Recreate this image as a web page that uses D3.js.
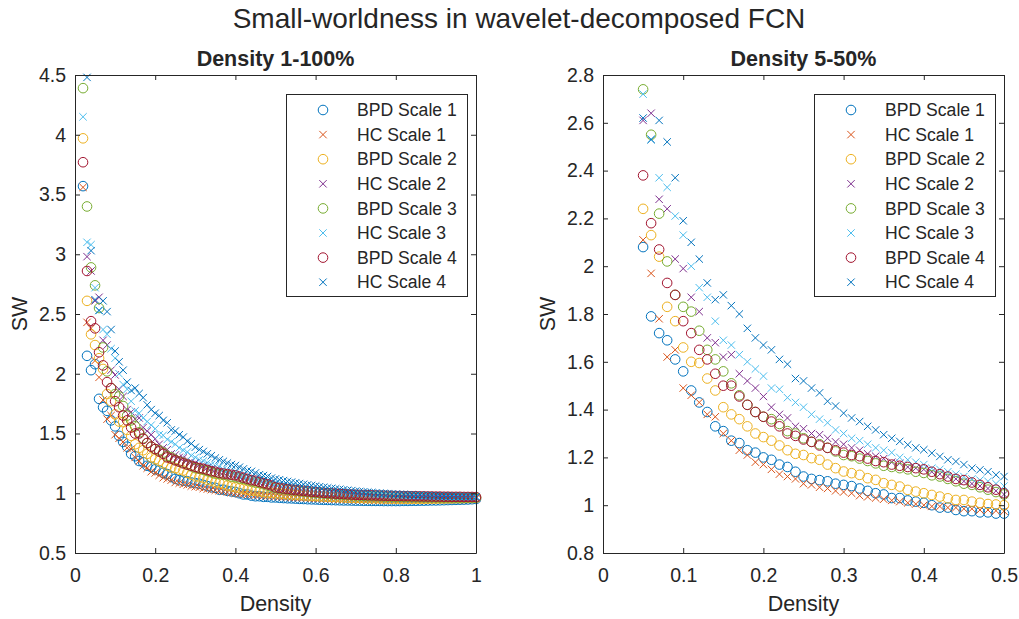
<!DOCTYPE html>
<html>
<head>
<meta charset="utf-8">
<script src="https://cdn.jsdelivr.net/npm/d3@7"></script>
<style>
  body { margin: 0; background: #ffffff; }
  svg text { font-family: "Liberation Sans", Arial, Helvetica, sans-serif; fill: #262626; }
</style>
</head>
<body>
<svg id="chart" width="1019" height="619"></svg>
<script>
// Network density thresholds, in percent (1% .. 100%)
const densityPct = [
  1, 2, 3, 4, 5, 6, 7, 8, 9, 10,
  11, 12, 13, 14, 15, 16, 17, 18, 19, 20,
  21, 22, 23, 24, 25, 26, 27, 28, 29, 30,
  31, 32, 33, 34, 35, 36, 37, 38, 39, 40,
  41, 42, 43, 44, 45, 46, 47, 48, 49, 50,
  51, 52, 53, 54, 55, 56, 57, 58, 59, 60,
  61, 62, 63, 64, 65, 66, 67, 68, 69, 70,
  71, 72, 73, 74, 75, 76, 77, 78, 79, 80,
  81, 82, 83, 84, 85, 86, 87, 88, 89, 90,
  91, 92, 93, 94, 95, 96, 97, 98, 99, 100
];

// Small-worldness (SW) per density; null where the graph gives no value
const bpdScale1 = [
  null, 3.57, 2.15, 2.03, 2.08, 1.79, 1.72, 1.69, 1.61, 1.56,
  1.48, 1.43, 1.39, 1.33, 1.31, 1.27, 1.26, 1.23, 1.22, 1.20,
  1.19, 1.17, 1.16, 1.14, 1.12, 1.11, 1.105, 1.10, 1.09, 1.085,
  1.08, 1.07, 1.06, 1.05, 1.045, 1.03, 1.03, 1.02, 1.015, 1.01,
  1.0, 0.99, 0.99, 0.98, 0.975, 0.975, 0.97, 0.97, 0.965, 0.965,
  0.962, 0.96, 0.958, 0.957, 0.955, 0.953, 0.952, 0.95, 0.949, 0.948,
  0.946, 0.945, 0.944, 0.943, 0.942, 0.941, 0.94, 0.94, 0.939, 0.938,
  0.938, 0.937, 0.937, 0.936, 0.936, 0.936, 0.935, 0.935, 0.935, 0.935,
  0.935, 0.936, 0.936, 0.937, 0.937, 0.938, 0.938, 0.939, 0.94, 0.94,
  0.941, 0.942, 0.943, 0.944, 0.945, 0.946, 0.947, 0.948, 0.95, 0.952
];
const hcScale1 = [
  null, 3.56, 2.43, 2.38, 2.11, 1.97, 1.78, 1.62, 1.65, 1.49,
  1.46, 1.43, 1.38, 1.37, 1.30, 1.27, 1.23, 1.21, 1.18, 1.17,
  1.15, 1.13, 1.12, 1.11, 1.09, 1.085, 1.075, 1.07, 1.06, 1.055,
  1.05, 1.04, 1.035, 1.03, 1.025, 1.02, 1.015, 1.01, 1.005, 1.0,
  0.995, 0.995, 0.99, 0.99, 0.985, 0.985, 0.98, 0.98, 0.977, 0.975,
  0.972, 0.97, 0.968, 0.966, 0.965, 0.963, 0.962, 0.96, 0.958, 0.957,
  0.956, 0.955, 0.953, 0.952, 0.951, 0.95, 0.949, 0.948, 0.947, 0.946,
  0.945, 0.945, 0.944, 0.944, 0.943, 0.943, 0.942, 0.942, 0.942, 0.942,
  0.942, 0.943, 0.943, 0.944, 0.944, 0.945, 0.945, 0.946, 0.947, 0.947,
  0.948, 0.949, 0.95, 0.951, 0.952, 0.953, 0.954, 0.955, 0.956, 0.957
];
const bpdScale2 = [
  null, 3.97, 2.61, 2.33, 2.24, 2.13, 2.04, 1.83, 1.77, 1.66,
  1.60, 1.595, 1.53, 1.48, 1.41, 1.38, 1.36, 1.33, 1.30, 1.285,
  1.27, 1.25, 1.23, 1.215, 1.21, 1.197, 1.19, 1.17, 1.155, 1.141,
  1.134, 1.127, 1.113, 1.106, 1.092, 1.085, 1.078, 1.064, 1.057, 1.05,
  1.043, 1.036, 1.029, 1.022, 1.022, 1.015, 1.01, 1.005, 1.003, 1.0,
  0.998, 0.995, 0.992, 0.99, 0.988, 0.985, 0.983, 0.981, 0.979, 0.977,
  0.975, 0.973, 0.972, 0.97, 0.968, 0.967, 0.966, 0.964, 0.963, 0.962,
  0.961, 0.96, 0.959, 0.958, 0.958, 0.957, 0.956, 0.956, 0.955, 0.955,
  0.954, 0.954, 0.954, 0.954, 0.954, 0.954, 0.954, 0.955, 0.955, 0.955,
  0.956, 0.956, 0.957, 0.957, 0.958, 0.958, 0.959, 0.96, 0.96, 0.961
];
const hcScale2 = [
  null, null, 2.98, 2.86, 2.61, 2.64, 2.28, 2.24, 2.03, 1.99,
  1.87, 1.81, 1.70, 1.68, 1.62, 1.63, 1.55, 1.52, 1.49, 1.455,
  1.41, 1.38, 1.365, 1.33, 1.32, 1.30, 1.295, 1.28, 1.265, 1.255,
  1.24, 1.23, 1.215, 1.205, 1.195, 1.18, 1.175, 1.16, 1.155, 1.15,
  1.14, 1.13, 1.12, 1.11, 1.10, 1.09, 1.08, 1.07, 1.06, 1.045,
  1.04, 1.035, 1.03, 1.025, 1.02, 1.015, 1.01, 1.005, 1.0, 0.997,
  0.994, 0.991, 0.988, 0.985, 0.983, 0.981, 0.979, 0.977, 0.975, 0.973,
  0.972, 0.97, 0.969, 0.968, 0.967, 0.966, 0.965, 0.964, 0.963, 0.963,
  0.962, 0.962, 0.961, 0.961, 0.961, 0.96, 0.96, 0.96, 0.96, 0.96,
  0.96, 0.96, 0.96, 0.961, 0.961, 0.961, 0.962, 0.962, 0.962, 0.963
];
const bpdScale3 = [
  null, 4.39, 3.40, 2.89, 2.74, 2.55, 2.22, 2.02, 1.88, 1.83,
  1.81, 1.73, 1.65, 1.61, 1.56, 1.51, 1.46, 1.42, 1.39, 1.37,
  1.36, 1.34, 1.31, 1.30, 1.28, 1.265, 1.255, 1.24, 1.225, 1.21,
  1.205, 1.195, 1.185, 1.175, 1.165, 1.16, 1.155, 1.15, 1.14, 1.135,
  1.125, 1.12, 1.11, 1.10, 1.09, 1.085, 1.075, 1.065, 1.055, 1.045,
  1.04, 1.035, 1.03, 1.026, 1.022, 1.018, 1.014, 1.01, 1.007, 1.004,
  1.001, 0.998, 0.995, 0.993, 0.991, 0.989, 0.987, 0.985, 0.983, 0.981,
  0.98, 0.978, 0.977, 0.976, 0.975, 0.974, 0.973, 0.972, 0.971, 0.97,
  0.97, 0.969, 0.969, 0.968, 0.968, 0.967, 0.967, 0.966, 0.966, 0.966,
  0.965, 0.965, 0.965, 0.965, 0.964, 0.964, 0.964, 0.964, 0.964, 0.964
];
const hcScale3 = [
  null, 4.15, 3.10, 3.08, 2.72, 2.53, 2.37, 2.33, 2.21, 2.13,
  2.00, 1.91, 1.87, 1.77, 1.69, 1.67, 1.63, 1.60, 1.57, 1.54,
  1.49, 1.485, 1.45, 1.43, 1.41, 1.38, 1.36, 1.345, 1.315, 1.30,
  1.28, 1.27, 1.255, 1.24, 1.23, 1.22, 1.20, 1.19, 1.18, 1.17,
  1.155, 1.15, 1.14, 1.13, 1.12, 1.11, 1.105, 1.10, 1.09, 1.08,
  1.074, 1.068, 1.063, 1.058, 1.053, 1.048, 1.043, 1.039, 1.035, 1.031,
  1.027, 1.023, 1.02, 1.016, 1.013, 1.01, 1.007, 1.004, 1.001, 0.998,
  0.996, 0.994, 0.992, 0.99, 0.988, 0.986, 0.985, 0.983, 0.982, 0.981,
  0.98, 0.979, 0.978, 0.977, 0.976, 0.975, 0.975, 0.974, 0.973, 0.973,
  0.972, 0.972, 0.971, 0.971, 0.97, 0.97, 0.97, 0.969, 0.969, 0.969
];
const bpdScale4 = [
  null, 3.77, 2.86, 2.44, 2.38, 2.18, 2.07, 1.93, 1.88, 1.77,
  1.72, 1.65, 1.61, 1.55, 1.50, 1.50, 1.455, 1.42, 1.39, 1.37,
  1.35, 1.33, 1.30, 1.29, 1.275, 1.265, 1.25, 1.24, 1.23, 1.22,
  1.21, 1.205, 1.195, 1.185, 1.18, 1.17, 1.165, 1.16, 1.155, 1.15,
  1.14, 1.13, 1.12, 1.11, 1.105, 1.095, 1.085, 1.075, 1.065, 1.05,
  1.045, 1.04, 1.035, 1.03, 1.027, 1.023, 1.02, 1.016, 1.013, 1.01,
  1.007, 1.004, 1.001, 0.999, 0.997, 0.995, 0.993, 0.991, 0.989, 0.987,
  0.986, 0.985, 0.984, 0.983, 0.982, 0.981, 0.98, 0.979, 0.978, 0.977,
  0.977, 0.976, 0.976, 0.975, 0.975, 0.974, 0.974, 0.973, 0.973, 0.972,
  0.972, 0.971, 0.971, 0.97, 0.97, 0.97, 0.969, 0.969, 0.969, 0.968
];
const hcScale4 = [
  null, null, 4.48, 3.03, 2.62, 2.53, 2.61, 2.52, 2.37, 2.19,
  2.10, 2.03, 1.93, 1.86, 1.88, 1.835, 1.80, 1.74, 1.70, 1.67,
  1.65, 1.61, 1.59, 1.53, 1.52, 1.49, 1.47, 1.435, 1.415, 1.385,
  1.365, 1.35, 1.33, 1.315, 1.295, 1.28, 1.267, 1.253, 1.24, 1.232,
  1.218, 1.204, 1.19, 1.183, 1.17, 1.155, 1.148, 1.14, 1.127, 1.12,
  1.113, 1.106, 1.099, 1.093, 1.087, 1.081, 1.075, 1.07, 1.065, 1.06,
  1.055, 1.05, 1.045, 1.041, 1.037, 1.033, 1.029, 1.025, 1.022, 1.018,
  1.015, 1.012, 1.009, 1.006, 1.003, 1.001, 0.999, 0.997, 0.995, 0.993,
  0.991, 0.989, 0.988, 0.986, 0.985, 0.984, 0.982, 0.981, 0.98, 0.979,
  0.978, 0.977, 0.976, 0.976, 0.975, 0.974, 0.974, 0.973, 0.973, 0.972
];

const seriesNames = ["BPD Scale 1", "HC Scale 1", "BPD Scale 2", "HC Scale 2",
                     "BPD Scale 3", "HC Scale 3", "BPD Scale 4", "HC Scale 4"];
const seriesValues = [bpdScale1, hcScale1, bpdScale2, hcScale2,
                      bpdScale3, hcScale3, bpdScale4, hcScale4];

// Tick values of the two panels
const fullXTicks = [0, 0.2, 0.4, 0.6, 0.8, 1];
const fullYTicks = [0.5, 1, 1.5, 2, 2.5, 3, 3.5, 4, 4.5];
const zoomXTicks = [0, 0.1, 0.2, 0.3, 0.4, 0.5];
const zoomYTicks = [0.8, 1, 1.2, 1.4, 1.6, 1.8, 2, 2.2, 2.4, 2.6, 2.8];

// ---- styling ----
const markerStyle = [
  { shape: "o", color: "#0072BD" }, { shape: "x", color: "#D95319" },
  { shape: "o", color: "#EDB120" }, { shape: "x", color: "#7E2F8E" },
  { shape: "o", color: "#77AC30" }, { shape: "x", color: "#4DBEEE" },
  { shape: "o", color: "#A2142F" }, { shape: "x", color: "#0072BD" }
];
const axisColor = "#262626";
const tickFont = 19.5, labelFont = 21.5, legendFont = 17.6, mainTitleFont = 28;
const circleR = 4.8, crossHalf = 3.7;
const plotTop = 75, plotBottom = 553;

const panels = [
  { title: "Density 1-100%", left: 75, right: 476, xDomain: [0, 1], yDomain: [0.5, 4.5],
    xTicks: fullXTicks, yTicks: fullYTicks, minPct: 1, maxPct: 100 },
  { title: "Density 5-50%", left: 603, right: 1004, xDomain: [0, 0.5], yDomain: [0.8, 2.8],
    xTicks: zoomXTicks, yTicks: zoomYTicks, minPct: 5, maxPct: 50 }
];

const svg = d3.select("#chart");
svg.append("rect").attr("width", 1019).attr("height", 619).attr("fill", "#ffffff");

const fmt = d3.format("~g");

function drawMarker(g, shape, color, cx, cy) {
  if (shape === "o") {
    g.append("circle").attr("cx", cx).attr("cy", cy).attr("r", circleR)
      .attr("fill", "none").attr("stroke", color).attr("stroke-width", 1);
  } else {
    const h = crossHalf;
    g.append("path")
      .attr("d", `M${cx - h},${cy - h}L${cx + h},${cy + h}M${cx - h},${cy + h}L${cx + h},${cy - h}`)
      .attr("fill", "none").attr("stroke", color).attr("stroke-width", 1);
  }
}

function styleAxis(sel, showLabels) {
  sel.select(".domain").attr("stroke", axisColor).attr("stroke-width", 1);
  sel.selectAll(".tick line").attr("stroke", axisColor).attr("stroke-width", 1);
  sel.attr("font-family", null).attr("font-size", null);
  sel.selectAll(".tick text").attr("font-size", tickFont).attr("fill", axisColor)
    .style("display", showLabels ? null : "none");
}

panels.forEach(p => {
  const x = d3.scaleLinear().domain(p.xDomain).range([p.left, p.right]);
  const y = d3.scaleLinear().domain(p.yDomain).range([plotBottom, plotTop]);
  const g = svg.append("g");

  // data markers, series drawn in order so later ones sit on top
  const dataLayer = g.append("g");
  seriesValues.forEach((vals, si) => {
    const st = markerStyle[si];
    const sg = dataLayer.append("g");
    densityPct.forEach((pct, i) => {
      const v = vals[i];
      if (v === null || pct < p.minPct || pct > p.maxPct) return;
      if (v < p.yDomain[0] || v > p.yDomain[1]) return;
      drawMarker(sg, st.shape, st.color, x(pct / 100), y(v));
    });
  });

  // axes box with inward ticks
  g.append("g").attr("transform", `translate(0,${plotBottom})`)
    .call(d3.axisBottom(x).tickValues(p.xTicks).tickFormat(fmt).tickSize(-5).tickSizeOuter(0).tickPadding(15))
    .call(s => styleAxis(s, true));
  g.append("g").attr("transform", `translate(0,${plotTop})`)
    .call(d3.axisTop(x).tickValues(p.xTicks).tickSize(-5).tickSizeOuter(0))
    .call(s => styleAxis(s, false));
  g.append("g").attr("transform", `translate(${p.left},0)`)
    .call(d3.axisLeft(y).tickValues(p.yTicks).tickFormat(fmt).tickSize(-5).tickSizeOuter(0).tickPadding(9))
    .call(s => styleAxis(s, true));
  g.append("g").attr("transform", `translate(${p.right},0)`)
    .call(d3.axisRight(y).tickValues(p.yTicks).tickSize(-5).tickSizeOuter(0))
    .call(s => styleAxis(s, false));

  const cx = (p.left + p.right) / 2;
  g.append("text").attr("x", cx).attr("y", 611).attr("text-anchor", "middle")
    .attr("font-size", labelFont).text("Density");
  g.append("text")
    .attr("transform", `translate(${p.left - 48},${(plotTop + plotBottom) / 2}) rotate(-90)`)
    .attr("text-anchor", "middle").attr("font-size", labelFont).text("SW");
  g.append("text").attr("x", cx).attr("y", 66).attr("text-anchor", "middle")
    .attr("font-size", labelFont).attr("font-weight", "bold").text(p.title);

  // legend (upper right)
  const lgLeft = p.right - 190, lgRight = p.right - 9, lgTop = 94, lgBottom = 296;
  const rowStep = 24.6, rowStart = 110;
  const lg = g.append("g");
  lg.append("rect").attr("x", lgLeft + 0.5).attr("y", lgTop + 0.5)
    .attr("width", lgRight - lgLeft).attr("height", lgBottom - lgTop)
    .attr("fill", "#ffffff").attr("stroke", axisColor).attr("stroke-width", 1);
  seriesNames.forEach((name, i) => {
    const ry = rowStart + i * rowStep;
    drawMarker(lg, markerStyle[i].shape, markerStyle[i].color, lgLeft + 37, ry);
    lg.append("text").attr("x", lgLeft + 71).attr("y", ry).attr("dy", "0.35em")
      .attr("font-size", legendFont).text(name);
  });
});

svg.append("text").attr("x", 519).attr("y", 28).attr("text-anchor", "middle")
  .attr("font-size", mainTitleFont).text("Small-worldness in wavelet-decomposed FCN");
</script>
</body>
</html>
